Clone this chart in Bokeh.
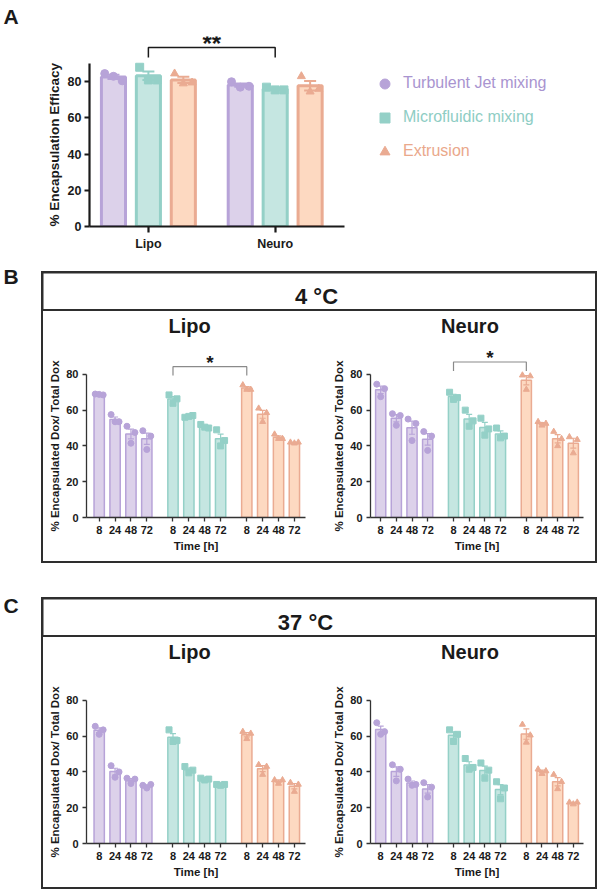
import math
import numpy as np
from bokeh.plotting import figure
from bokeh.models import (ColumnDataSource, Range1d, FixedTicker, Legend, Title,
                          LegendItem, Whisker, TeeHead, Spacer, Row, Column)
from bokeh.core.properties import value
from bokeh.embed import file_html
from bokeh.resources import INLINE

FONT = "Liberation Sans"

METHODS = ["Turbulent Jet mixing", "Microfluidic mixing", "Extrusion"]
FORMULATIONS = ["Lipo", "Neuro"]
TIMES = ["8", "24", "48", "72"]

# (A) encapsulation efficacy (%), replicates per formulation [Lipo, Neuro]
ee_tj = [[84.5, 80.5, 83.0], [80.0, 77.5, 77.0]]
ee_mf = [[88.0, 81.0, 81.0], [77.0, 75.5, 75.5]]
ee_ex = [[84.5, 79.5, 79.0], [83.0, 76.0, 74.5]]

# (B) 4 °C retention: % encapsulated / total dox, replicates at 8, 24, 48, 72 h
b_lipo_tj = [[69.0, 68.5, 68.8], [57.5, 53.5, 53.5], [51.0, 47.5, 41.5], [48.5, 45.5, 38.0]]
b_lipo_mf = [[68.5, 66.3, 63.8], [56.0, 57.0, 56.5], [52.0, 50.0, 50.5], [49.0, 43.0, 40.0]]
b_lipo_ex = [[74.0, 71.5, 71.5], [61.0, 58.5, 53.5], [46.5, 44.0, 44.0], [42.0, 42.0, 41.5]]
b_neuro_tj = [[74.5, 72.0, 67.5], [58.0, 57.0, 51.5], [55.0, 52.5, 43.0], [48.0, 45.5, 37.5]]
b_neuro_mf = [[70.0, 67.0, 66.0], [60.0, 54.0, 51.0], [55.5, 49.5, 46.0], [50.0, 45.5, 44.5]]
b_neuro_ex = [[79.5, 79.0, 71.5], [53.5, 52.5, 51.5], [48.0, 44.0, 40.0], [45.0, 43.5, 36.0]]

# (C) 37 °C retention
c_lipo_tj = [[65.5, 63.5, 61.0], [43.5, 40.0, 37.0], [36.5, 36.0, 33.5], [32.5, 33.0, 31.0]]
c_lipo_mf = [[63.5, 57.5, 57.0], [43.0, 41.0, 39.5], [36.5, 36.0, 35.5], [33.0, 33.0, 32.5]]
c_lipo_ex = [[62.5, 61.5, 58.5], [44.0, 43.0, 38.5], [35.5, 35.5, 33.5], [34.0, 33.0, 29.0]]
c_neuro_tj = [[67.5, 62.5, 61.0], [44.0, 41.5, 35.0], [36.0, 33.0, 32.5], [34.0, 31.5, 26.0]]
c_neuro_mf = [[63.5, 61.0, 57.0], [47.5, 42.5, 41.5], [45.0, 41.0, 36.5], [34.5, 31.0, 25.0]]
c_neuro_ex = [[66.5, 60.5, 56.5], [41.5, 40.5, 39.0], [38.5, 34.5, 30.5], [23.0, 23.0, 22.0]]

MARKERS = ["circle", "square", "triangle"]
FILL = ["#dcd1ea", "#c5e6e1", "#fdd9c1"]
EDGE = ["#b7a3d8", "#94d0c7", "#eaab92"]
TEXTC = ["#a994d0", "#8ecdc4", "#eaa88b"]
BOX = "#2e2e2e"
INK = "#1a1a1a"
JITTER = [-0.25, 0.25, 0.0]


def stats(reps):
    arr = np.asarray(reps, dtype=float)
    return float(arr.mean()), float(arr.std(ddof=1) / math.sqrt(len(arr)))


def draw_bars(p, k, xs, reps_list, bar_w, lw, pt_size, head, ew):
    means, lo, hi, px, py = [], [], [], [], []
    for x, reps in zip(xs, reps_list):
        m, s = stats(reps)
        means.append(m)
        lo.append(m - s)
        hi.append(m + s)
        for j, v in enumerate(reps):
            px.append(x + JITTER[j])
            py.append(v)
    p.vbar(x=xs, top=means, bottom=0, width=bar_w, fill_color=FILL[k],
           line_color=EDGE[k], line_width=lw)
    r = p.scatter(x=px, y=py, marker=MARKERS[k], size=pt_size,
                  fill_color=EDGE[k], line_color=EDGE[k])
    src = ColumnDataSource(dict(base=xs, lower=lo, upper=hi))
    p.add_layout(Whisker(source=src, base="base", lower="lower", upper="upper",
                         line_color=EDGE[k], line_width=ew, level="annotation",
                         upper_head=TeeHead(size=head, line_color=EDGE[k], line_width=ew),
                         lower_head=TeeHead(size=head, line_color=EDGE[k], line_width=ew)))
    return r


def base_fig(width, height, xr, yr, **kw):
    p = figure(width=width, height=height, x_range=xr, y_range=yr,
               output_backend="svg", toolbar_location=None, frame_align=False, **kw)
    p.xgrid.visible = False
    p.ygrid.visible = False
    p.outline_line_color = None
    p.background_fill_color = "white"
    p.border_fill_color = "white"
    return p


def text_fig(width, height, txt, x, y, size, align="left"):
    p = figure(width=width, height=height, x_range=Range1d(0, width),
               y_range=Range1d(height, 0), output_backend="svg",
               toolbar_location=None, x_axis_type=None, y_axis_type=None,
               min_border=0, frame_align=False)
    p.outline_line_color = None
    p.text(x=[x], y=[y], text=[txt], text_font=value(FONT),
           text_font_size=size, text_font_style="bold", text_color=INK,
           text_align=align, text_baseline="alphabetic")
    return p


def side_label(p, text, size, offset, standoff):
    # vertical axis title, anchored at the bottom of the frame and shifted by offset
    p.add_layout(Title(text=text, align="left", offset=offset, standoff=standoff,
                       text_font=FONT, text_font_size=size, text_font_style="bold",
                       text_color=INK), "left")


def style_axis(ax, lw, color, tick_out, size, standoff=4):
    ax.axis_line_width = lw
    ax.axis_line_color = color
    ax.major_tick_line_width = lw
    ax.major_tick_line_color = color
    ax.major_tick_out = tick_out
    ax.major_tick_in = 0
    ax.minor_tick_line_color = None
    ax.major_label_text_font = FONT
    ax.major_label_text_font_style = "bold"
    ax.major_label_text_font_size = size
    ax.major_label_text_color = INK
    ax.major_label_standoff = standoff


# ---------------- panel A ----------------
A_CENTERS = [0.0, 3.63]
A_XMIN, A_XMAX = -1.686, 5.6
pa = base_fig(559, 263, Range1d(A_XMIN, 12.8), Range1d(0, 105),
              min_border_left=47, min_border_right=5,
              min_border_top=36, min_border_bottom=37)
scat = []
for k, reps in enumerate([ee_tj, ee_mf, ee_ex]):
    xs = [c + (k - 1) for c in A_CENTERS]
    scat.append(draw_bars(pa, k, xs, reps, 0.69, 3, 8, 12, 2))

pa.yaxis.ticker = FixedTicker(ticks=[0, 20, 40, 60, 80])
pa.yaxis.bounds = (0, 90)
pa.yaxis.axis_label = None
pa.xaxis.axis_label = None
pa.xaxis.ticker = FixedTicker(ticks=A_CENTERS)
pa.xaxis.bounds = (A_XMIN, A_XMAX)
pa.xaxis.major_label_overrides = {A_CENTERS[i]: FORMULATIONS[i] for i in range(2)}
style_axis(pa.xaxis, 2.2, INK, 6, "12.5px", 4)
style_axis(pa.yaxis, 2.2, INK, 5, "12.5px", 3)
side_label(pa, "% Encapsulation Efficacy", "13.5px", 0, 6)

# significance bracket between Lipo and Neuro microfluidic groups
pa.line(x=[A_CENTERS[0], A_CENTERS[0], A_CENTERS[1], A_CENTERS[1]],
        y=[93.4, 98.9, 98.9, 93.4], line_color=INK, line_width=1.5)
pa.text(x=[sum(A_CENTERS) / 2], y=[101.4], text=["**"], text_font=value(FONT),
        text_font_size="24px", text_font_style="bold", text_color=INK,
        text_align="center", text_baseline="alphabetic")

legend_pos = [(283, 130.5), (283, 96.5), (283, 62.5)]
for k in range(3):
    leg = Legend(items=[LegendItem(label=METHODS[k], renderers=[scat[k]])],
                 location=legend_pos[k], glyph_width=25, glyph_height=25,
                 label_height=25, label_standoff=6, padding=0, margin=0,
                 border_line_color=None, background_fill_alpha=0,
                 label_text_font=FONT, label_text_font_size="16px",
                 label_text_color=TEXTC[k])
    pa.add_layout(leg)

letter_a = text_fig(41, 263, "A", 3, 16, "21px")
row_a = Row(children=[letter_a, pa], spacing=0)

# ---------------- panels B and C ----------------
GROUP_STEP = 4.65
POS = [[round(g * GROUP_STEP + i, 3) for i in range(4)] for g in range(3)]
ALL_POS = [x for grp in POS for x in grp]
LABELS = {x: TIMES[i % 4] for i, x in enumerate(ALL_POS)}


def subplot(title, series, width, left, right, xr, bracket=None):
    p = base_fig(width, 250, xr, Range1d(0, 114),
                 min_border_left=left, min_border_right=right,
                 min_border_top=2, min_border_bottom=44)
    for k, reps in enumerate(series):
        draw_bars(p, k, POS[k], reps, 0.65, 1.5, 6, 6, 1.2)
    p.yaxis.ticker = FixedTicker(ticks=[0, 20, 40, 60, 80])
    p.yaxis.bounds = (0, 80)
    p.yaxis.axis_label = None
    p.xaxis.ticker = FixedTicker(ticks=ALL_POS)
    p.xaxis.major_label_overrides = LABELS
    p.xaxis.axis_label = "Time [h]"
    p.xaxis.axis_label_standoff = 3
    p.xaxis.axis_label_text_font = FONT
    p.xaxis.axis_label_text_font_size = "11.5px"
    p.xaxis.axis_label_text_font_style = "bold"
    p.xaxis.axis_label_text_color = INK
    for ax in (p.xaxis, p.yaxis):
        style_axis(ax, 1.3, "#333333", 4, "11px")
    side_label(p, "% Encapsulated Dox/ Total Dox", "11.5px", -14, 6)
    p.text(x=[5.7], y=[107], text=[title], text_font=value(FONT),
           text_font_size="20px", text_font_style="bold", text_color=INK,
           text_align="center", text_baseline="alphabetic")
    if bracket is not None:
        x0, x1 = POS[1][0], POS[2][0]
        p.line(x=[x0, x0, x1, x1], y=[bracket - 5, bracket, bracket, bracket - 5],
               line_color="#8a8a8a", line_width=1.2)
        p.text(x=[(x0 + x1) / 2], y=[bracket + 2.3], text=["*"], text_font=value(FONT),
               text_font_size="19px", text_font_style="bold", text_color=INK,
               text_align="center", text_baseline="alphabetic")
    return p


def boxed(header, cx, lipo_series, neuro_series, brackets):
    hdr = text_fig(552, 36, header, cx, 22.5, "22px", align="center")
    lipo = subplot("Lipo", lipo_series, 277, 43, 15, Range1d(-0.8, 13.0),
                   brackets[0])
    neuro = subplot("Neuro", neuro_series, 275, 50, 12, Range1d(-0.65, 12.95),
                    brackets[1])
    body = Row(children=[lipo, neuro], spacing=0, styles={"background-color": "white"})
    return Column(children=[hdr, body], spacing=2,
                  styles={"background-color": BOX, "padding": "2px"})


box_b = boxed("4 °C", 273, [b_lipo_tj, b_lipo_mf, b_lipo_ex],
              [b_neuro_tj, b_neuro_mf, b_neuro_ex], (84.3, 86.9))
box_c = boxed("37 °C", 262, [c_lipo_tj, c_lipo_mf, c_lipo_ex],
              [c_neuro_tj, c_neuro_mf, c_neuro_ex], (None, None))

letter_b = text_fig(41, 300, "B", 3, 13, "21px")
row_b = Row(children=[letter_b, Column(children=[Spacer(width=556, height=8), box_b],
                                       spacing=0)], spacing=0)
letter_c = text_fig(41, 326, "C", 3, 42, "21px")
row_c = Row(children=[letter_c, Column(children=[Spacer(width=556, height=34), box_c],
                                       spacing=0)], spacing=0)

page = Column(children=[row_a, row_b, row_c], spacing=0)

with open("out.html", "w") as f:
    f.write(file_html(page, INLINE, title="Dox encapsulation and retention"))
